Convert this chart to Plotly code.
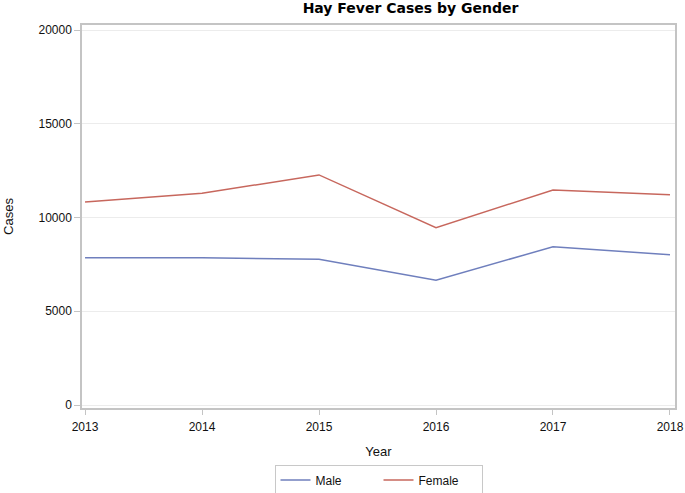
import plotly.graph_objects as go

years = [2013, 2014, 2015, 2016, 2017, 2018]
male = [7860, 7860, 7770, 6650, 8440, 8020]
female = [10830, 11290, 12270, 9460, 11470, 11220]
y_ticks = [0, 5000, 10000, 15000, 20000]

fig = go.Figure()
fig.add_trace(go.Scatter(x=years, y=male, mode="lines", name="Male",
                         line=dict(color="#6f7fbd", width=1.5)))
fig.add_trace(go.Scatter(x=years, y=female, mode="lines", name="Female",
                         line=dict(color="#c7675d", width=1.5)))

font = "Liberation Sans, Arial, sans-serif"
fig.update_layout(
    width=685, height=493,
    margin=dict(l=82, r=10, t=25, b=85, autoexpand=False),
    paper_bgcolor="white", plot_bgcolor="white",
    font=dict(family=font, size=12, color="#111"),
    title=dict(text="<b>Hay Fever Cases by Gender</b>", x=379.5 / 685, xanchor="center",
               xref="paper", y=1 - 8.5 / 493, yanchor="middle", yref="container",
               font=dict(size=14, family="DejaVu Sans, sans-serif", color="#000")),
    showlegend=True,
    legend=dict(orientation="h", x=0.5, xanchor="center", xref="paper",
                y=-0.188, yanchor="middle", bordercolor="#c8c8c8", borderwidth=1,
                entrywidth=58, entrywidthmode="pixels",
                font=dict(size=12, family=font, color="#111")),
)
fig.update_xaxes(
    range=[2012.974, 2018.043], tickmode="array", tickvals=years,
    ticktext=[str(y) for y in years], automargin=False,
    showline=True, linecolor="#c4c4c4", linewidth=1.5, mirror=True,
    ticks="outside", ticklen=5, tickcolor="#c4c4c4", showgrid=False, zeroline=False,
    ticklabelstandoff=2,
    title=dict(text="Year", font=dict(size=13, family=font, color="#111"), standoff=14),
    tickfont=dict(size=12, family=font, color="#111"),
)
fig.update_yaxes(
    range=[-160, 20267], tickmode="array", tickvals=y_ticks,
    ticktext=[str(v) for v in y_ticks], automargin=False,
    showline=True, linecolor="#c4c4c4", linewidth=1.5, mirror=True,
    ticks="outside", ticklen=6, tickcolor="#c4c4c4",
    showgrid=True, gridcolor="#ececec", gridwidth=1, zeroline=False,
    title=dict(text="Cases", font=dict(size=13, family=font, color="#111"), standoff=22),
    tickfont=dict(size=12, family=font, color="#111"),
)
fig.write_html("out.html", config={"displayModeBar": False},
               post_script="document.body.style.margin='0px';")
